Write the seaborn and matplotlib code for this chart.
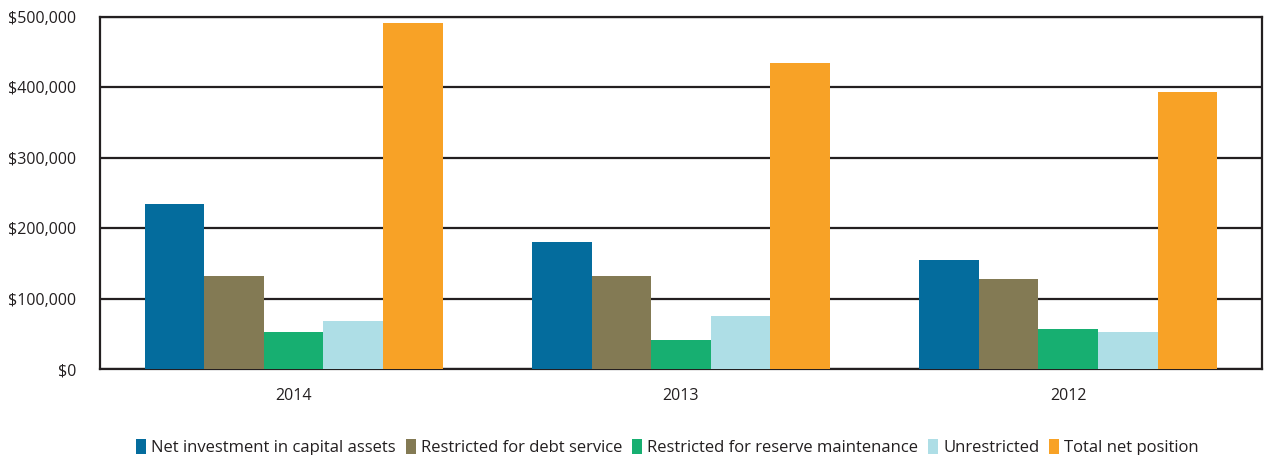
import matplotlib
matplotlib.use("Agg")
import matplotlib.pyplot as plt
import matplotlib.ticker as mticker
import seaborn as sns
import pandas as pd

years = ["2014", "2013", "2012"]
categories = [
    "Net investment in capital assets",
    "Restricted for debt service",
    "Restricted for reserve maintenance",
    "Unrestricted",
    "Total net position",
]
net_investment = [234000, 181000, 155000]
restricted_debt = [132000, 132000, 128000]
restricted_reserve = [53000, 41000, 57000]
unrestricted = [68000, 75000, 53000]
total_net_position = [492000, 435000, 393000]
colors = ["#046C9D", "#837A54", "#17AF71", "#AEDEE6", "#F8A226"]

series = [net_investment, restricted_debt, restricted_reserve, unrestricted, total_net_position]
rows = []
for cat, vals in zip(categories, series):
    for yr, v in zip(years, vals):
        rows.append({"Year": yr, "Category": cat, "Value": v})
df = pd.DataFrame(rows)

sns.set_style("white")
plt.rcParams["font.family"] = ["Open Sans", "DejaVu Sans"]

fig = plt.figure(figsize=(12.64, 4.55), dpi=100)
ax = fig.add_axes([0.0791, 0.189, 0.9193, 0.7736])

sns.barplot(data=df, x="Year", y="Value", hue="Category", order=years,
            hue_order=categories, palette=colors, width=0.77, saturation=1,
            errorbar=None, ax=ax, legend=True, zorder=3, linewidth=0)

ax.set_ylim(0, 500000)
ax.set_xlim(-0.5, 2.5)
ax.yaxis.set_major_locator(mticker.MultipleLocator(100000))
ax.yaxis.set_major_formatter(mticker.FuncFormatter(lambda v, p: f"${v:,.0f}"))
ax.grid(axis="y", color="#231F20", linewidth=1.6, zorder=0)
ax.set_axisbelow(True)
for s in ax.spines.values():
    s.set_color("#231F20")
    s.set_linewidth(1.6)
ax.set_xlabel("")
ax.set_ylabel("")
ax.tick_params(axis="both", length=0, labelsize=11.5, colors="#231F20")
ax.tick_params(axis="y", pad=17)
ax.tick_params(axis="x", pad=14)

handles, labels = ax.get_legend_handles_labels()
ax.get_legend().remove()
fig.legend(handles, labels, loc="lower center", bbox_to_anchor=(0.528, -0.036),
           ncol=5, frameon=False, fontsize=12, handlelength=0.6, handleheight=1.0,
           handletextpad=0.3, columnspacing=0.6, labelcolor="#231F20")

fig.savefig("out.png", dpi=100)
